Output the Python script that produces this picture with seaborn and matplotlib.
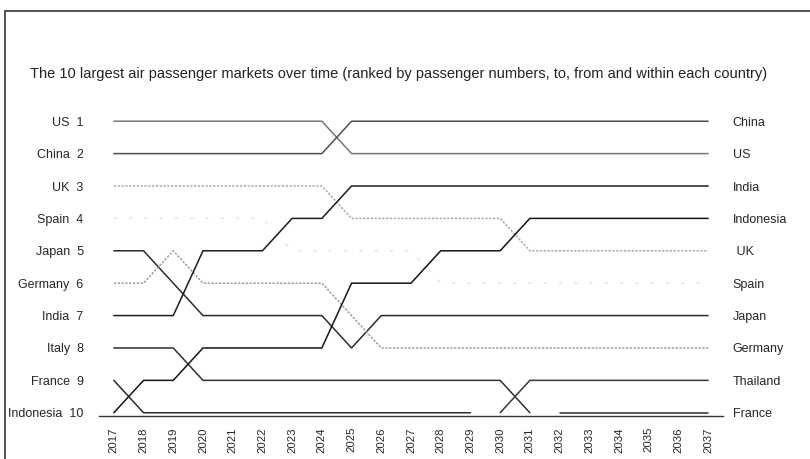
import numpy as np
import pandas as pd
import matplotlib
matplotlib.use('Agg')
import matplotlib.pyplot as plt
import seaborn as sns
from matplotlib.patches import Rectangle

# ranks, 2017..2037 (nan = outside the top 10)
nan = np.nan
years = [2017, 2018, 2019, 2020, 2021, 2022, 2023, 2024, 2025, 2026, 2027,
         2028, 2029, 2030, 2031, 2032, 2033, 2034, 2035, 2036, 2037]

us = [1, 1, 1, 1, 1, 1, 1, 1, 2, 2, 2, 2, 2, 2, 2, 2, 2, 2, 2, 2, 2]
china = [2, 2, 2, 2, 2, 2, 2, 2, 1, 1, 1, 1, 1, 1, 1, 1, 1, 1, 1, 1, 1]
uk = [3, 3, 3, 3, 3, 3, 3, 3, 4, 4, 4, 4, 4, 4, 5, 5, 5, 5, 5, 5, 5]
spain = [4, 4, 4, 4, 4, 4, 5, 5, 5, 5, 5, 6, 6, 6, 6, 6, 6, 6, 6, 6, 6]
japan = [5, 5, 6, 7, 7, 7, 7, 7, 8, 7, 7, 7, 7, 7, 7, 7, 7, 7, 7, 7, 7]
germany = [6, 6, 5, 6, 6, 6, 6, 6, 7, 8, 8, 8, 8, 8, 8, 8, 8, 8, 8, 8, 8]
india = [7, 7, 7, 5, 5, 5, 4, 4, 3, 3, 3, 3, 3, 3, 3, 3, 3, 3, 3, 3, 3]
italy = [8, 8, 8, 9, 9, 9, 9, 9, 9, 9, 9, 9, 9, 9, 10, nan, nan, nan, nan, nan, nan]
france = [9, 10, 10, 10, 10, 10, 10, 10, 10, 10, 10, 10, 10, nan, nan, 10, 10, 10, 10, 10, 10]
indonesia = [10, 9, 9, 8, 8, 8, 8, 8, 6, 6, 6, 5, 5, 5, 4, 4, 4, 4, 4, 4, 4]
thailand = [nan, nan, nan, nan, nan, nan, nan, nan, nan, nan, nan, nan, nan, 10, 9, 9, 9, 9, 9, 9, 9]

left_labels = ['US', 'China', 'UK', 'Spain', 'Japan', 'Germany', 'India', 'Italy', 'France', 'Indonesia']
right_labels = ['China', 'US', 'India', 'Indonesia', ' UK', 'Spain', 'Japan', 'Germany', 'Thailand', 'France']
ranks = [1, 2, 3, 4, 5, 6, 7, 8, 9, 10]

series = {'US': us, 'China': china, 'UK': uk, 'Spain': spain, 'Japan': japan,
          'Germany': germany, 'India': india, 'Italy': italy, 'France': france,
          'Indonesia': indonesia, 'Thailand': thailand}

colors = {'US': '#767676', 'China': '#505050', 'UK': '#ababab', 'Spain': '#e2e2e2',
          'Japan': '#2c2c2c', 'Germany': '#9c9c9c', 'India': '#1c1c1c', 'Italy': '#303030',
          'France': '#2a2a2a', 'Indonesia': '#141414', 'Thailand': '#383838'}
dashes = {'US': '', 'China': '', 'UK': (1.5, 1), 'Spain': (2, 8), 'Japan': '',
          'Germany': (1.5, 1), 'India': '', 'Italy': '', 'France': '',
          'Indonesia': '', 'Thailand': ''}

# long table, a new segment wherever a country drops out
rows = []
for name, vals in series.items():
    seg = 0
    for yr, r in zip(years, vals):
        if np.isnan(r):
            seg += 1
            continue
        rows.append({'country': name, 'year': yr, 'rank': r, 'segment': f'{name}{seg}'})
df = pd.DataFrame(rows)

sns.set_style('white')
plt.rcParams['font.family'] = ['Liberation Sans', 'DejaVu Sans']

fig = plt.figure(figsize=(8.1, 4.59), dpi=100)
ax = fig.add_axes([0.1222, 0.0937, 0.7704, 0.6775])

sns.lineplot(data=df, x='year', y='rank', hue='country', style='country',
             units='segment', estimator=None, palette=colors, dashes=dashes,
             linewidth=1.1, legend=False, ax=ax)

ax.set_xlim(years[0] - 0.5, years[-1] + 0.5)
ax.set_ylim(10.1, 0.5)
ax.set_xlabel('')
ax.set_ylabel('')

ax.set_xticks(years)
ax.set_xticklabels([str(y) for y in years], rotation=90, fontsize=8.2)
ax.set_xticks([y - 0.5 for y in years] + [years[-1] + 0.5], minor=True)
ax.tick_params(axis='x', which='major', length=0, pad=8)
ax.tick_params(axis='x', which='minor', length=4, direction='inout', width=0.8, color='#333333')

ax.set_yticks(ranks)
ax.set_yticklabels([f'{n}  {r}' for n, r in zip(left_labels, ranks)], fontsize=9)
ax.tick_params(axis='y', length=0, pad=11)

for s in ['top', 'right', 'left']:
    ax.spines[s].set_visible(False)
ax.spines['bottom'].set_color('#333333')
ax.spines['bottom'].set_linewidth(1.0)

ax2 = ax.twinx()
ax2.set_ylim(ax.get_ylim())
ax2.set_yticks(ranks)
ax2.set_yticklabels(right_labels, fontsize=9)
ax2.tick_params(axis='y', length=0, pad=7)
for s in ax2.spines.values():
    s.set_visible(False)

fig.text(0.037, 0.838,
         'The 10 largest air passenger markets over time (ranked by passenger numbers, to, from and within each country)',
         fontsize=10.5, ha='left', va='center', color='#222222')

# page frame from the scan
fig.patches.append(Rectangle((5 / 810, -0.1), 1.2, 1.1 - 11 / 459, transform=fig.transFigure,
                             fill=False, edgecolor='#444444', linewidth=1.3))

fig.savefig('out.png', dpi=100)
